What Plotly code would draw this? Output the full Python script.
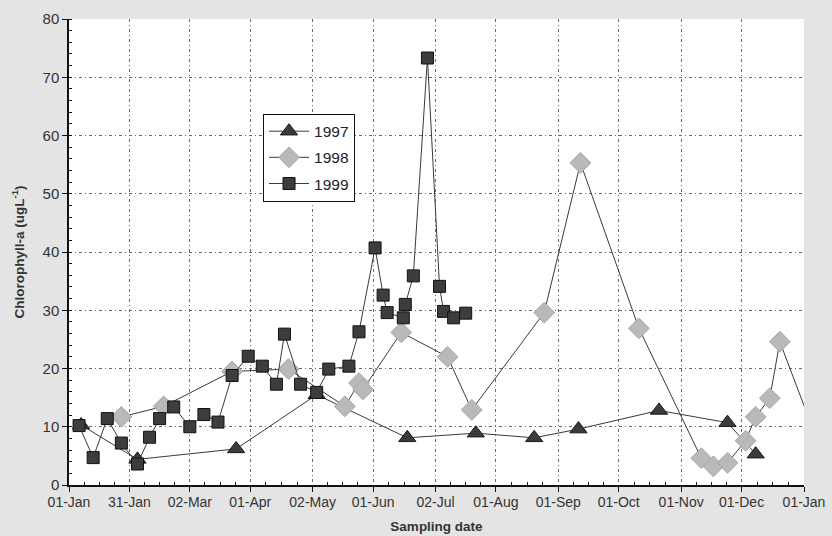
import pandas as pd
import plotly.graph_objects as go

YEAR = 2001  # common non-leap reference year used to overlay the years by date

# ---- data (month-day of sampling, chlorophyll-a in ugL-1) ----
dates_1997 = ["01-07", "02-04", "03-25", "05-04", "06-18", "07-22", "08-20",
              "09-11", "10-21", "11-24", "12-08"]
chl_1997 = [10.3, 4.4, 6.2, 15.5, 8.1, 8.9, 8.1, 9.6, 12.8, 10.7, 5.3]

# last 1998 sample lies just past the end of the axis (its line is clipped)
dates_1998 = ["01-27", "02-17", "03-23", "04-20", "05-18", "05-25", "05-27",
              "06-15", "07-08", "07-20", "08-25", "09-12", "10-11", "11-11",
              "11-17", "11-24", "12-03", "12-08", "12-15", "12-20", "+01-11"]
chl_1998 = [11.7, 13.5, 19.5, 19.9, 13.5, 17.5, 16.4, 26.2, 22.0, 12.9, 29.6,
            55.3, 26.9, 4.6, 3.2, 3.8, 7.6, 11.7, 14.9, 24.6, 4.5]

dates_1999 = ["01-06", "01-13", "01-20", "01-27", "02-04", "02-10", "02-15",
              "02-22", "03-02", "03-09", "03-16", "03-23", "03-31", "04-07",
              "04-14", "04-18", "04-26", "05-04", "05-10", "05-20", "05-25",
              "06-02", "06-06", "06-08", "06-16", "06-17", "06-21", "06-28",
              "07-04", "07-06", "07-11", "07-17"]
chl_1999 = [10.2, 4.7, 11.4, 7.2, 3.6, 8.2, 11.4, 13.4, 10.0, 12.1, 10.8, 18.8,
            22.1, 20.4, 17.3, 25.9, 17.3, 15.9, 19.9, 20.4, 26.3, 40.7, 32.6,
            29.6, 28.7, 31.0, 35.9, 73.3, 34.1, 29.8, 28.7, 29.5]

tick_labels = ["01-Jan", "31-Jan", "02-Mar", "01-Apr", "02-May", "01-Jun",
               "02-Jul", "01-Aug", "01-Sep", "01-Oct", "01-Nov", "01-Dec", "01-Jan"]
tick_dates = ["01-01", "01-31", "03-02", "04-01", "05-02", "06-01", "07-02",
              "08-01", "09-01", "10-01", "11-01", "12-01", "+01-01"]


def to_ts(md):
    if md.startswith("+"):
        return pd.Timestamp(f"{YEAR + 1}-{md[1:]}")
    return pd.Timestamp(f"{YEAR}-{md}")


tickvals = [to_ts(d) for d in tick_dates]
minor_vals = []
for a, b in zip(tickvals[:-1], tickvals[1:]):
    for k in (1, 2, 3):
        minor_vals.append(a + (b - a) * k / 4)

LINE = "#3a3a3a"
series = [
    ("1997", dates_1997, chl_1997, "triangle-up", 15, "#3b3b3b", "#1a1a1a"),
    ("1998", dates_1998, chl_1998, "diamond", 16, "#b9b9b9", "#a8a8a8"),
    ("1999", dates_1999, chl_1999, "square", 12, "#3d3d3d", "#111111"),
]

fig = go.Figure()
for name, d, v, sym, size, fill, edge in series:
    fig.add_trace(go.Scatter(
        x=[to_ts(s) for s in d], y=v, name=name, legendgroup=name,
        mode="lines+markers",
        line=dict(color=LINE, width=1),
        marker=dict(symbol=sym, size=size, color=fill,
                    line=dict(color=edge, width=1)),
    ))

grid = dict(showgrid=True, gridcolor="#6a6a6a", gridwidth=1,
            griddash="3px,3px,1px,3px")
font = "Liberation Sans, Arial, sans-serif"

fig.update_layout(
    width=832, height=536,
    margin=dict(l=69, r=28, t=19, b=51),
    paper_bgcolor="#e4e4e4",
    plot_bgcolor="#ffffff",
    font=dict(family=font, size=14, color="#333333"),
    showlegend=True,
    legend=dict(x=0.264, y=0.797, xanchor="left", yanchor="top",
                bgcolor="#ffffff", bordercolor="#111111", borderwidth=1,
                font=dict(size=15.5, color="#222222"), itemwidth=40,
                tracegroupgap=3),
    xaxis=dict(
        range=[tickvals[0], tickvals[-1]], tickmode="array",
        tickvals=tickvals, ticktext=tick_labels,
        ticks="outside", ticklen=5, tickcolor="#111111",
        showline=True, linecolor="#111111", linewidth=1.5,
        tickfont=dict(size=14), automargin=False, ticklabelstandoff=-2,
        title=dict(text="<b>Sampling date</b>", font=dict(size=13.5), standoff=13),
        minor=dict(tickmode="array", tickvals=minor_vals, ticks="inside",
                   ticklen=3, tickcolor="#111111", showgrid=False),
        zeroline=False, **grid),
    yaxis=dict(
        range=[0, 80], tickmode="linear", tick0=0, dtick=10,
        ticks="outside", ticklen=5, tickcolor="#111111",
        showline=True, linecolor="#111111", linewidth=1.5,
        tickfont=dict(size=15), automargin=False,
        title=dict(text="<b>Chlorophyll-a (ugL<sup>-1</sup>)</b>",
                   font=dict(size=13.5), standoff=15),
        minor=dict(dtick=2, ticks="inside", ticklen=3, tickcolor="#111111",
                   showgrid=False),
        zeroline=False, **grid),
)

fig.write_html(
    "out.html",
    config={"displayModeBar": False},
    post_script="document.body.style.margin='0';"
                "document.body.style.background='#e4e4e4';",
)
